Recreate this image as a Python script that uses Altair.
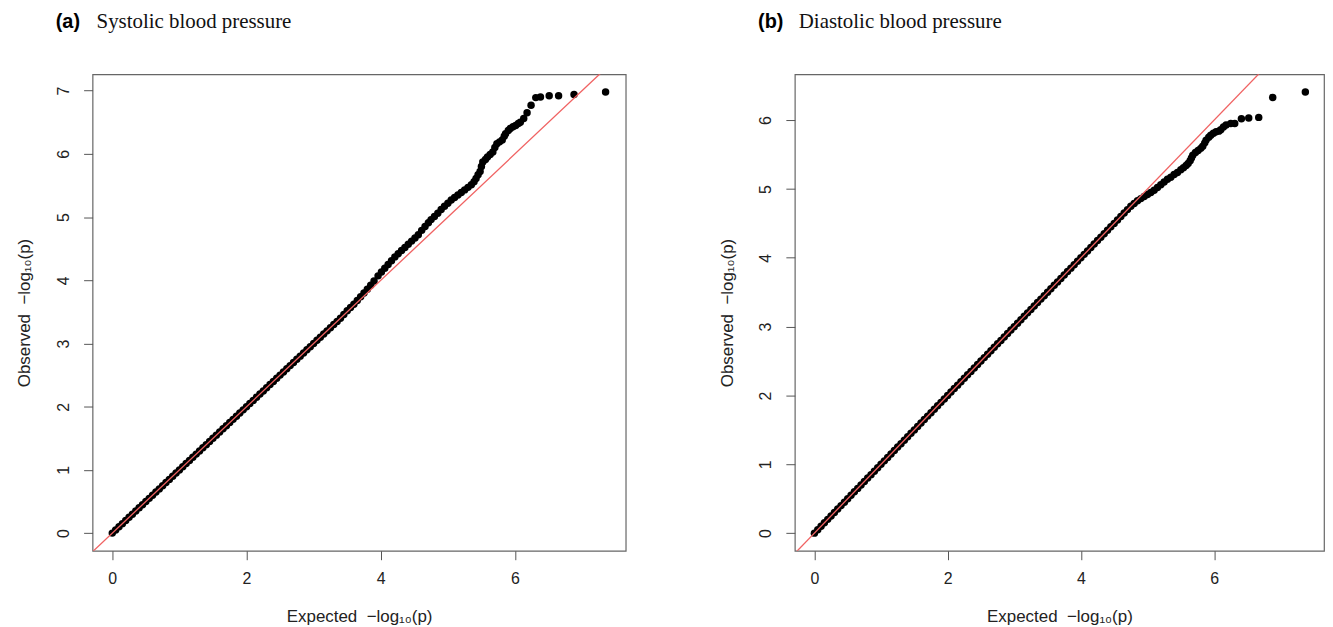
import altair as alt
import pandas as pd

# ---------------- data ----------------
# Panel (a) Systolic blood pressure
sbp_expected = [
    0.00, 0.05, 0.10, 0.15, 0.20, 0.25, 0.30, 0.35, 0.40, 0.45,
    0.50, 0.55, 0.60, 0.65, 0.70, 0.75, 0.80, 0.85, 0.90, 0.95,
    1.00, 1.05, 1.10, 1.15, 1.20, 1.25, 1.30, 1.35, 1.40, 1.45,
    1.50, 1.55, 1.60, 1.65, 1.70, 1.75, 1.80, 1.85, 1.90, 1.95,
    2.00, 2.05, 2.10, 2.15, 2.20, 2.25, 2.30, 2.35, 2.40, 2.45,
    2.50, 2.55, 2.60, 2.65, 2.70, 2.75, 2.80, 2.85, 2.90, 2.95,
    3.00, 3.05, 3.10, 3.15, 3.20, 3.25, 3.30, 3.35, 3.40,
    3.45, 3.50, 3.55, 3.60, 3.65, 3.70, 3.75, 3.80, 3.85, 3.90,
    3.96, 4.01, 4.06, 4.11, 4.16, 4.21, 4.26, 4.31, 4.36, 4.41,
    4.46, 4.51, 4.56, 4.61, 4.66, 4.71, 4.75, 4.80, 4.85, 4.90,
    4.95, 5.00, 5.05, 5.10, 5.15, 5.20, 5.25, 5.30, 5.35, 5.39,
    5.42, 5.45, 5.48, 5.50, 5.52, 5.56, 5.59, 5.63, 5.67, 5.70,
    5.73, 5.77, 5.81, 5.84, 5.86, 5.90, 5.93, 5.97, 6.01, 6.05,
    6.08, 6.13, 6.18, 6.24, 6.31, 6.38, 6.51, 6.65, 6.88, 7.35,
]
sbp_observed = [
    0.00, 0.05, 0.10, 0.15, 0.20, 0.25, 0.30, 0.35, 0.40, 0.45,
    0.50, 0.55, 0.60, 0.65, 0.70, 0.75, 0.80, 0.85, 0.90, 0.95,
    1.00, 1.05, 1.10, 1.15, 1.20, 1.25, 1.30, 1.35, 1.40, 1.45,
    1.50, 1.55, 1.60, 1.65, 1.70, 1.75, 1.80, 1.85, 1.90, 1.95,
    2.00, 2.05, 2.10, 2.15, 2.20, 2.25, 2.30, 2.35, 2.40, 2.45,
    2.50, 2.55, 2.60, 2.65, 2.70, 2.75, 2.80, 2.85, 2.90, 2.95,
    3.00, 3.05, 3.10, 3.15, 3.20, 3.25, 3.30, 3.35, 3.40,
    3.46, 3.52, 3.57, 3.62, 3.68, 3.74, 3.80, 3.86, 3.92, 3.99,
    4.07, 4.13, 4.19, 4.25, 4.31, 4.37, 4.42, 4.47, 4.52, 4.57,
    4.62, 4.67, 4.72, 4.79, 4.85, 4.91, 4.96, 5.01, 5.06, 5.12,
    5.17, 5.22, 5.27, 5.31, 5.35, 5.39, 5.43, 5.47, 5.51, 5.56,
    5.61, 5.67, 5.72, 5.80, 5.87, 5.91, 5.95, 5.99, 6.03, 6.10,
    6.16, 6.19, 6.22, 6.28, 6.32, 6.37, 6.40, 6.43, 6.45, 6.48,
    6.50, 6.56, 6.65, 6.77, 6.89, 6.90, 6.92, 6.92, 6.94, 6.98,
]

# Panel (b) Diastolic blood pressure
dbp_expected = [
    0.00, 0.05, 0.10, 0.15, 0.20, 0.25, 0.30, 0.35, 0.40, 0.45,
    0.50, 0.55, 0.60, 0.65, 0.70, 0.75, 0.80, 0.85, 0.90, 0.95,
    1.00, 1.05, 1.10, 1.15, 1.20, 1.25, 1.30, 1.35, 1.40, 1.45,
    1.50, 1.55, 1.60, 1.65, 1.70, 1.75, 1.80, 1.85, 1.90, 1.95,
    2.00, 2.05, 2.10, 2.15, 2.20, 2.25, 2.30, 2.35, 2.40, 2.45,
    2.50, 2.55, 2.60, 2.65, 2.70, 2.75, 2.80, 2.85, 2.90, 2.95,
    3.00, 3.05, 3.10, 3.15, 3.20, 3.25, 3.30, 3.35, 3.40, 3.45,
    3.50, 3.55, 3.60, 3.65, 3.70, 3.75, 3.80, 3.85, 3.90, 3.95,
    4.00, 4.05, 4.10, 4.15, 4.20, 4.25, 4.30, 4.35, 4.40, 4.45,
    4.50, 4.55, 4.60, 4.65, 4.70,
    4.75, 4.80, 4.85, 4.90, 4.95, 5.00, 5.05, 5.10, 5.15, 5.20,
    5.25, 5.30, 5.35, 5.40, 5.45, 5.50, 5.54, 5.58, 5.61, 5.64,
    5.66, 5.68, 5.72, 5.76, 5.80, 5.83, 5.86, 5.88, 5.92, 5.95,
    5.99, 6.03, 6.07, 6.10, 6.14, 6.18, 6.25, 6.31, 6.41, 6.52,
    6.67, 6.88, 7.37,
]
dbp_observed = [
    0.00, 0.05, 0.10, 0.15, 0.20, 0.25, 0.30, 0.35, 0.40, 0.45,
    0.50, 0.55, 0.60, 0.65, 0.70, 0.75, 0.80, 0.85, 0.90, 0.95,
    1.00, 1.05, 1.10, 1.15, 1.20, 1.25, 1.30, 1.35, 1.40, 1.45,
    1.50, 1.55, 1.60, 1.65, 1.70, 1.75, 1.80, 1.85, 1.90, 1.95,
    2.00, 2.05, 2.10, 2.15, 2.20, 2.25, 2.30, 2.35, 2.40, 2.45,
    2.50, 2.55, 2.60, 2.65, 2.70, 2.75, 2.80, 2.85, 2.90, 2.95,
    3.00, 3.05, 3.10, 3.15, 3.20, 3.25, 3.30, 3.35, 3.40, 3.45,
    3.50, 3.55, 3.60, 3.65, 3.70, 3.75, 3.80, 3.85, 3.90, 3.95,
    4.00, 4.05, 4.10, 4.15, 4.20, 4.25, 4.30, 4.35, 4.40, 4.45,
    4.50, 4.55, 4.60, 4.65, 4.70,
    4.75, 4.79, 4.83, 4.86, 4.89, 4.92, 4.95, 4.98, 5.02, 5.06,
    5.10, 5.14, 5.17, 5.21, 5.24, 5.28, 5.31, 5.34, 5.37, 5.41,
    5.45, 5.49, 5.53, 5.56, 5.59, 5.62, 5.67, 5.71, 5.75, 5.78,
    5.81, 5.83, 5.84, 5.86, 5.90, 5.93, 5.95, 5.95, 6.02, 6.03,
    6.04, 6.33, 6.41,
]

x_ticks = [0, 2, 4, 6]
sbp_y_ticks = [0, 1, 2, 3, 4, 5, 6, 7]
dbp_y_ticks = [0, 1, 2, 3, 4, 5, 6]

sbp_x_domain = [-0.294, 7.65]
sbp_y_domain = [-0.279, 7.259]
dbp_x_domain = [-0.294, 7.65]
dbp_y_domain = [-0.256, 6.666]

x_title = "Expected\u00a0 \u2212log\u2081\u2080(p)"
y_title = "Observed\u00a0 \u2212log\u2081\u2080(p)"

SANS = "Liberation Sans"
SERIF = "Liberation Serif"
TXT = "#222222"
LINE = "#555555"


def panel(tag, name, exp, obs, xdom, ydom, yticks, width, height):
    df = pd.DataFrame({"expected": exp, "observed": obs})
    xs = alt.Scale(domain=xdom, nice=False, zero=False)
    ys = alt.Scale(domain=ydom, nice=False, zero=False)
    xax = alt.Axis(values=x_ticks, title=x_title, format="d", grid=False,
                   domain=False, tickSize=9, tickColor=LINE, tickWidth=1,
                   labelPadding=11, labelFontSize=16, labelFont=SANS,
                   labelColor=TXT, titleFont=SANS, titleFontSize=17,
                   titleFontWeight="normal", titleColor=TXT, titlePadding=22)
    yax = alt.Axis(values=yticks, title=y_title, format="d", grid=False,
                   domain=False, tickSize=9, tickColor=LINE, tickWidth=1,
                   labelAngle=270, labelAlign="center", labelBaseline="bottom",
                   labelPadding=12, labelFontSize=16, labelFont=SANS,
                   labelColor=TXT, titleFont=SANS, titleFontSize=17,
                   titleFontWeight="normal", titleColor=TXT, titlePadding=22)

    pts = alt.Chart(df).mark_circle(color="black", opacity=1, size=56).encode(
        x=alt.X("expected:Q", scale=xs, axis=xax),
        y=alt.Y("observed:Q", scale=ys, axis=yax),
    )
    diag_df = pd.DataFrame({"expected": xdom, "observed": xdom})
    diag = alt.Chart(diag_df).mark_line(color="#f06262", strokeWidth=1.3,
                                        clip=True).encode(
        x=alt.X("expected:Q", scale=xs),
        y=alt.Y("observed:Q", scale=ys),
    )
    tag_df = pd.DataFrame({"t": [tag]})
    tag_txt = alt.Chart(tag_df).mark_text(
        align="left", baseline="alphabetic", font=SANS, fontWeight="bold",
        fontSize=20, color="black").encode(
        x=alt.value(-37), y=alt.value(-47), text="t:N")
    name_df = pd.DataFrame({"t": [name]})
    name_txt = alt.Chart(name_df).mark_text(
        align="left", baseline="alphabetic", font=SERIF, fontSize=21,
        color="#111111").encode(
        x=alt.value(4), y=alt.value(-47), text="t:N")
    return alt.layer(pts, diag, tag_txt, name_txt).properties(
        width=width, height=height)


pa = panel("(a)", "Systolic blood pressure", sbp_expected, sbp_observed,
           sbp_x_domain, sbp_y_domain, sbp_y_ticks, 536, 479)
pb = panel("(b)", "Diastolic blood pressure", dbp_expected, dbp_observed,
           dbp_x_domain, dbp_y_domain, dbp_y_ticks, 532, 479)

chart = alt.hconcat(pa, pb, spacing=91).properties(
    padding={"left": 7, "top": 0, "right": 0, "bottom": 0},
    background="white",
).configure_view(stroke="#666666", strokeWidth=1.2)

chart.save("out.html", embed_options={"renderer": "svg", "actions": False})
